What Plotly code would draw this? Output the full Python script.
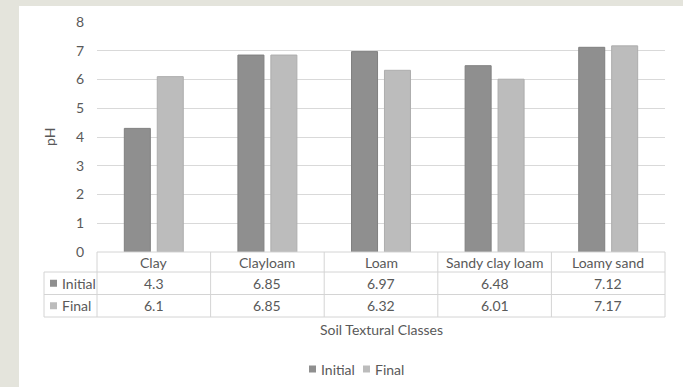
import plotly.graph_objects as go

# Soil pH before and after treatment, by soil textural class
categories = ["Clay", "Clayloam", "Loam", "Sandy clay loam", "Loamy sand"]
initial_ph = [4.3, 6.85, 6.97, 6.48, 7.12]
final_ph = [6.1, 6.85, 6.32, 6.01, 7.17]
initial_labels = ["4.3", "6.85", "6.97", "6.48", "7.12"]
final_labels = ["6.1", "6.85", "6.32", "6.01", "7.17"]
series_names = ["Initial", "Final"]
y_ticks = [0, 1, 2, 3, 4, 5, 6, 7, 8]

W, H = 683, 387
PL, PR, PT, PB = 97, 665, 22, 252  # plot area edges in pixels
FONT = "Lato, Liberation Sans, sans-serif"
TXT = "#595959"
GRID = "#d9d9d9"
BORDER = "#d4d4d4"
C_INIT = "#8f8f8f"
C_FINAL = "#bcbcbc"
FS = 14


def px_x(x):
    return (x - PL) / (PR - PL)


def px_y(y):
    return (PB - y) / (PB - PT)


fig = go.Figure()
fig.add_trace(go.Bar(
    x=categories, y=initial_ph, name=series_names[0],
    marker=dict(color=C_INIT, line=dict(color="#808080", width=1)),
))
fig.add_trace(go.Bar(
    x=categories, y=final_ph, name=series_names[1],
    marker=dict(color=C_FINAL, line=dict(color="#adadad", width=1)),
))

shapes = []
annotations = []

# white chart panel on the textured page
shapes.append(dict(type="rect", xref="paper", yref="paper", layer="below",
                   x0=px_x(19), x1=px_x(683), y0=px_y(6), y1=px_y(390),
                   fillcolor="white", line=dict(width=0)))

# data table below the axis
n = len(categories)
col_w = (PR - PL) / n
row_y = [252, 272, 294.5, 317]
line = dict(color=BORDER, width=1)
# horizontal rules
shapes.append(dict(type="line", xref="paper", yref="paper", x0=0, x1=1,
                   y0=px_y(row_y[0]), y1=px_y(row_y[0]), line=line))
for y in row_y[1:]:
    shapes.append(dict(type="line", xref="paper", yref="paper",
                       x0=px_x(44), x1=1, y0=px_y(y), y1=px_y(y), line=line))
# vertical rules
shapes.append(dict(type="line", xref="paper", yref="paper", x0=px_x(44), x1=px_x(44),
                   y0=px_y(row_y[1]), y1=px_y(row_y[3]), line=line))
for i in range(n + 1):
    x = PL + i * col_w
    shapes.append(dict(type="line", xref="paper", yref="paper", x0=px_x(x), x1=px_x(x),
                       y0=px_y(row_y[0]), y1=px_y(row_y[3]), line=line))

cell_font = dict(family=FONT, size=FS, color=TXT)
for i, cat in enumerate(categories):
    cx = px_x(PL + (i + 0.5) * col_w)
    for text, (ya, yb) in [(cat, row_y[0:2]), (initial_labels[i], row_y[1:3]),
                           (final_labels[i], row_y[2:4])]:
        annotations.append(dict(xref="paper", yref="paper", x=cx, y=px_y((ya + yb) / 2),
                                text=text, showarrow=False, font=cell_font,
                                xanchor="center", yanchor="middle"))


def key(name, color, x_sq, y_mid):
    """Small colour square followed by the series name."""
    shapes.append(dict(type="rect", xref="paper", yref="paper",
                       x0=px_x(x_sq), x1=px_x(x_sq + 7),
                       y0=px_y(y_mid + 3.5), y1=px_y(y_mid - 3.5),
                       fillcolor=color, line=dict(width=0)))
    annotations.append(dict(xref="paper", yref="paper", x=px_x(x_sq + 10), y=px_y(y_mid),
                            text=name, showarrow=False, font=cell_font,
                            xanchor="left", yanchor="middle"))


# series keys in the table's first column
key(series_names[0], C_INIT, 50, (row_y[1] + row_y[2]) / 2)
key(series_names[1], C_FINAL, 50, (row_y[2] + row_y[3]) / 2)

# legend below the table
key(series_names[0], C_INIT, 309, 369)
key(series_names[1], C_FINAL, 363, 369)

# axis titles
annotations.append(dict(xref="paper", yref="paper", x=px_x(381), y=px_y(329),
                        text="Soil Textural Classes", showarrow=False,
                        font=dict(family=FONT, size=FS, color=TXT),
                        xanchor="center", yanchor="middle"))
annotations.append(dict(xref="paper", yref="paper", x=px_x(49), y=px_y(137),
                        text="pH", showarrow=False, textangle=-90,
                        font=dict(family=FONT, size=FS, color=TXT),
                        xanchor="center", yanchor="middle"))

fig.update_layout(
    width=W, height=H,
    margin=dict(l=PL, r=W - PR, t=PT, b=H - PB, autoexpand=False),
    paper_bgcolor="#e4e4dc",
    plot_bgcolor="white",
    barmode="group",
    bargap=0.42,
    bargroupgap=0.21,
    font=dict(family=FONT, size=FS, color=TXT),
    shapes=shapes,
    annotations=annotations,
    showlegend=False,
)
fig.update_xaxes(showticklabels=False, showgrid=False, showline=False, ticks="",
                 zeroline=False)
fig.update_yaxes(range=[0, 8], tickvals=y_ticks, showgrid=True, gridcolor=GRID,
                 gridwidth=1, zeroline=False, showline=False, ticks="",
                 ticklabelstandoff=12, tickfont=dict(family=FONT, size=FS, color=TXT))

fig.write_html("out.html")
